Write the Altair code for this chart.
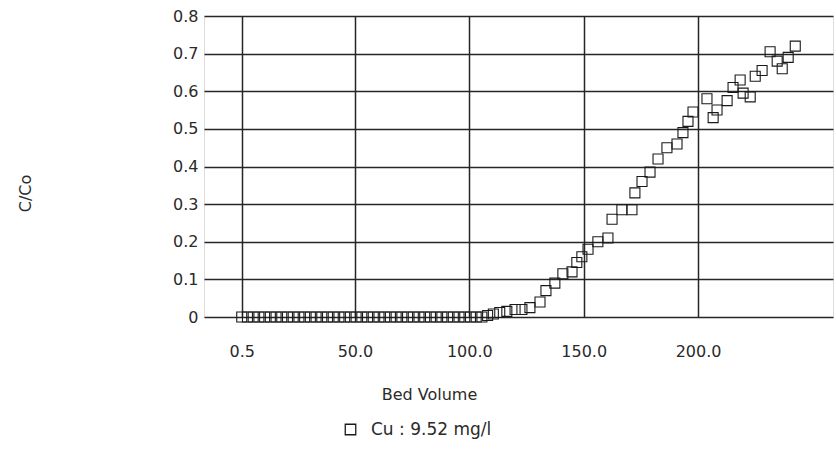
import altair as alt
import pandas as pd

# Bed volume (x) and C/Co (y)
bed_volume = [
    0.5, 3.0, 5.5, 8.0, 10.5, 13.0, 15.5, 18.0, 20.5, 23.0, 25.5, 28.0, 30.5, 33.0,
    35.5, 38.0, 40.5, 43.0, 45.5, 48.0, 50.5, 53.0, 55.5, 58.0, 60.5, 63.0, 65.5,
    68.0, 70.5, 73.0, 75.5, 78.0, 80.5, 83.0, 85.5, 88.0, 90.5, 93.0, 95.5, 98.0,
    100.5, 103.0, 105.5, 108.0, 110.5,
    113.3, 116.4, 120.0, 123.0, 126.5, 130.9, 133.5, 137.4, 140.9, 144.9, 147.0,
    149.2, 151.9, 156.2, 160.6, 162.4, 166.7, 171.1, 172.4, 175.5, 179.0, 182.5,
    186.4, 190.8, 193.4, 195.6, 197.8, 203.9, 206.6, 208.3, 212.7, 215.3, 218.4,
    219.7, 222.8, 225.0, 228.0, 231.5, 234.6, 236.8, 239.4, 242.5,
]
c_over_co = [
    0.0, 0.0, 0.0, 0.0, 0.0, 0.0, 0.0, 0.0, 0.0, 0.0, 0.0, 0.0, 0.0, 0.0,
    0.0, 0.0, 0.0, 0.0, 0.0, 0.0, 0.0, 0.0, 0.0, 0.0, 0.0, 0.0, 0.0,
    0.0, 0.0, 0.0, 0.0, 0.0, 0.0, 0.0, 0.0, 0.0, 0.0, 0.0, 0.0, 0.0,
    0.0, 0.0, 0.0, 0.004, 0.008,
    0.012, 0.015, 0.02, 0.02, 0.025, 0.04, 0.07, 0.09, 0.115, 0.12, 0.145,
    0.16, 0.18, 0.2, 0.21, 0.26, 0.285, 0.285, 0.33, 0.36, 0.385, 0.42,
    0.45, 0.46, 0.49, 0.52, 0.545, 0.58, 0.53, 0.55, 0.575, 0.61, 0.63,
    0.595, 0.585, 0.64, 0.655, 0.705, 0.68, 0.66, 0.69, 0.72,
]
series_name = "Cu : 9.52 mg/l"

x_ticks = [0.5, 50.0, 100.0, 150.0, 200.0]
y_ticks = [0.0, 0.1, 0.2, 0.3, 0.4, 0.5, 0.6, 0.7, 0.8]

df = pd.DataFrame({"bv": bed_volume, "c": c_over_co, "series": series_name})

FONT = "DejaVu Sans"
TXT = "#2a2a2a"
GRID = "#262626"

chart = alt.Chart(df).mark_point(
    shape="square", filled=False, size=100, strokeWidth=1.1, opacity=1
).encode(
    x=alt.X(
        "bv:Q",
        scale=alt.Scale(domain=[-16, 259], nice=False, zero=False),
        axis=alt.Axis(
            values=x_ticks,
            format=".1f",
            title="Bed Volume",
            titleX=225,
            titleY=77,
            titleBaseline="middle",
            titleFont=FONT,
            titleFontSize=16,
            titleFontWeight="normal",
            titleColor=TXT,
            labelFont=FONT,
            labelFontSize=16,
            labelColor=TXT,
            labelPadding=26,
            ticks=False,
            domain=False,
            grid=True,
            gridColor=GRID,
            gridWidth=1.5,
            gridOpacity=1,
        ),
    ),
    y=alt.Y(
        "c:Q",
        scale=alt.Scale(domain=[0, 0.8], nice=False),
        axis=alt.Axis(
            values=y_ticks,
            labelExpr="datum.value == 0 ? '0' : format(datum.value, '.1f')",
            title="C/Co",
            titleX=-179,
            titleY=177,
            titleAlign="center",
            titleBaseline="middle",
            titleFont=FONT,
            titleFontSize=16,
            titleFontWeight="normal",
            titleColor=TXT,
            labelFont=FONT,
            labelFontSize=16,
            labelColor=TXT,
            labelPadding=6,
            ticks=False,
            domain=False,
            grid=True,
            gridColor=GRID,
            gridWidth=1.5,
            gridOpacity=1,
        ),
    ),
    color=alt.Color(
        "series:N",
        scale=alt.Scale(range=["#1a1a1a"]),
        legend=alt.Legend(
            title=None,
            orient="none",
            legendX=138,
            legendY=405,
            symbolType="square",
            symbolSize=110,
            symbolStrokeWidth=1.3,
            symbolFillColor="white",
            labelFont=FONT,
            labelFontSize=17,
            labelColor=TXT,
            labelOffset=12,
        ),
    ),
).properties(
    width=629,
    height=301,
    padding={"left": 204, "top": 16, "right": 3, "bottom": 132},
    autosize=alt.AutoSizeParams(type="none"),
).configure_view(
    stroke=GRID, strokeWidth=1.5, fill="white"
).configure(background="white")

chart.save("out.html", embed_options={"renderer": "svg", "actions": False})
